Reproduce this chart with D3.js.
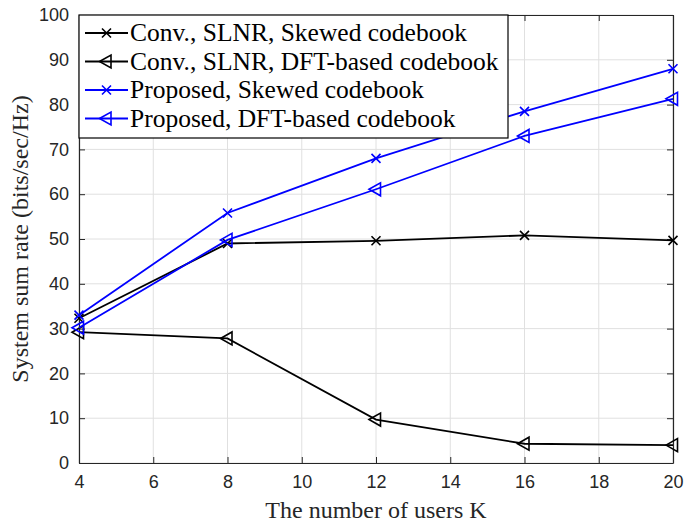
<!DOCTYPE html>
<html>
<head>
<meta charset="utf-8">
<script src="https://cdn.jsdelivr.net/npm/d3@7"></script>
<style>
  html, body { margin: 0; padding: 0; background: #fff; }
  svg { display: block; }
</style>
</head>
<body>
<svg id="chart" width="684" height="523"></svg>
<script>
// ---- data ----
const usersK = [4, 8, 12, 16, 20];
const convSkewed = [32.3, 49.0, 49.6, 50.8, 49.7];
const convDFT = [29.2, 27.8, 9.7, 4.3, 4.0];
const propSkewed = [33.0, 55.8, 68.0, 78.5, 88.0];
const propDFT = [30.2, 49.8, 61.1, 73.0, 81.3];
const seriesNames = [
  "Conv., SLNR, Skewed codebook",
  "Conv., SLNR, DFT-based codebook",
  "Proposed, Skewed codebook",
  "Proposed, DFT-based codebook"
];
const xTicks = [4, 6, 8, 10, 12, 14, 16, 18, 20];
const yTicks = [0, 10, 20, 30, 40, 50, 60, 70, 80, 90, 100];
const xTitle = "The number of users K";
const yTitle = "System sum rate (bits/sec/Hz)";

const series = [
  { name: seriesNames[0], values: convSkewed, color: "#000000", marker: "x" },
  { name: seriesNames[1], values: convDFT, color: "#000000", marker: "tri" },
  { name: seriesNames[2], values: propSkewed, color: "#0000ff", marker: "x" },
  { name: seriesNames[3], values: propDFT, color: "#0000ff", marker: "tri" }
];

// ---- layout ----
const svg = d3.select("#chart");
const L = 79, R = 673, T = 15, B = 463;
const x = d3.scaleLinear().domain([4, 20]).range([L, R]);
const y = d3.scaleLinear().domain([0, 100]).range([B, T]);
const axisColor = "#262626";

// grid
const grid = svg.append("g");
grid.selectAll("line.gx").data(xTicks).join("line")
  .attr("x1", d => x(d)).attr("x2", d => x(d))
  .attr("y1", T).attr("y2", B)
  .attr("stroke", "#e0e0e0").attr("stroke-width", 1);
grid.selectAll("line.gy").data(yTicks).join("line")
  .attr("x1", L).attr("x2", R)
  .attr("y1", d => y(d)).attr("y2", d => y(d))
  .attr("stroke", "#e0e0e0").attr("stroke-width", 1);

// axes (ticks inside)
const tickLen = 6;
const gx = svg.append("g").attr("transform", `translate(0,${B})`)
  .call(d3.axisBottom(x).tickValues(xTicks).tickSizeInner(-tickLen).tickSizeOuter(0).tickPadding(12));
const gy = svg.append("g").attr("transform", `translate(${L},0)`)
  .call(d3.axisLeft(y).tickValues(yTicks).tickSizeInner(-tickLen).tickSizeOuter(0).tickPadding(10));
const gxt = svg.append("g").attr("transform", `translate(0,${T})`)
  .call(d3.axisTop(x).tickValues(xTicks).tickSizeInner(-tickLen).tickSizeOuter(0).tickFormat(""));
const gyr = svg.append("g").attr("transform", `translate(${R},0)`)
  .call(d3.axisRight(y).tickValues(yTicks).tickSizeInner(-tickLen).tickSizeOuter(0).tickFormat(""));
[gx, gy, gxt, gyr].forEach(g => {
  g.select(".domain").attr("stroke", axisColor).attr("stroke-width", 1.2);
  g.selectAll(".tick line").attr("stroke", axisColor).attr("stroke-width", 1);
  g.selectAll(".tick text").attr("fill", axisColor)
    .attr("font-family", "'Liberation Sans', Arial, sans-serif").attr("font-size", 18);
});

// lines
const line = d3.line().x((d, i) => x(usersK[i])).y(d => y(d));
function markerPath(type, cx, cy) {
  if (type === "x") {
    const r = 4.5;
    return `M${cx - r},${cy - r}L${cx + r},${cy + r}M${cx - r},${cy + r}L${cx + r},${cy - r}`;
  }
  return `M${cx - 7},${cy}L${cx + 4.5},${cy - 6.5}L${cx + 4.5},${cy + 6.5}Z`;
}
const plot = svg.append("g");
series.forEach(s => {
  plot.append("path").datum(s.values)
    .attr("d", line).attr("fill", "none")
    .attr("stroke", s.color).attr("stroke-width", 1.8);
  plot.selectAll(null).data(s.values).join("path")
    .attr("d", (d, i) => markerPath(s.marker, x(usersK[i]), y(d)))
    .attr("fill", "none").attr("stroke", s.color).attr("stroke-width", 1.6);
});

// legend
const legX = L, legY = T, legW = 508 - L, legH = 138 - T;
const leg = svg.append("g");
leg.append("rect").attr("x", legX).attr("y", legY).attr("width", legW).attr("height", legH)
  .attr("fill", "#fff").attr("stroke", "#000").attr("stroke-width", 1.2);
series.forEach((s, i) => {
  const cy = 33 + i * 28.5;
  leg.append("line").attr("x1", 85).attr("x2", 128).attr("y1", cy).attr("y2", cy)
    .attr("stroke", s.color).attr("stroke-width", 1.8);
  leg.append("path").attr("d", markerPath(s.marker, 106.5, cy))
    .attr("fill", "none").attr("stroke", s.color).attr("stroke-width", 1.6);
  leg.append("text").attr("x", 130).attr("y", cy).attr("dy", "0.33em")
    .attr("font-family", "'Liberation Serif', 'Times New Roman', serif").attr("font-size", 25.5)
    .attr("fill", "#000").text(s.name);
});

// titles
svg.append("text").attr("x", (L + R) / 2).attr("y", 518).attr("text-anchor", "middle")
  .attr("font-family", "'Liberation Serif', 'Times New Roman', serif").attr("font-size", 24)
  .attr("fill", axisColor).text(xTitle);
svg.append("text").attr("transform", `translate(28,${(T + B) / 2}) rotate(-90)`)
  .attr("text-anchor", "middle")
  .attr("font-family", "'Liberation Serif', 'Times New Roman', serif").attr("font-size", 24)
  .attr("fill", axisColor).text(yTitle);
</script>
</body>
</html>
